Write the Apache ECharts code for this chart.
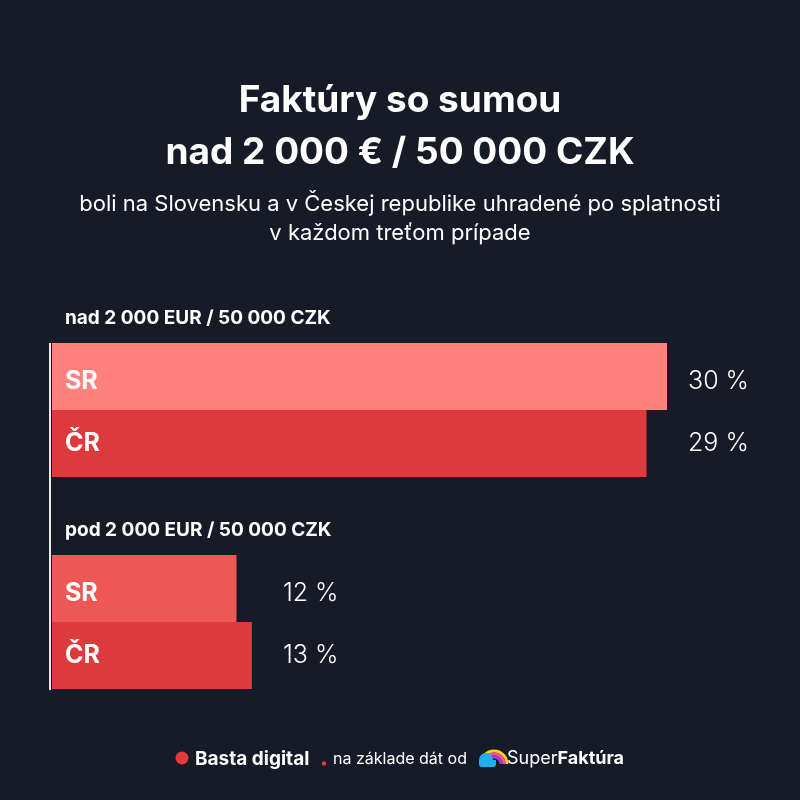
<!DOCTYPE html>
<html>
<head>
<meta charset="utf-8">
<title>Faktúry so sumou nad 2 000 €</title>
<script src="https://cdn.jsdelivr.net/npm/echarts@6/dist/echarts.min.js"></script>
<style>
  html, body { margin: 0; padding: 0; background: #171a27; }
  #chart { width: 800px; height: 800px; }
</style>
</head>
<body>
<div id="chart"></div>
<script>
// data
const countries = ['SR', 'ČR'];
const groupTitles = ['nad 2 000 EUR / 50 000 CZK', 'pod 2 000 EUR / 50 000 CZK'];
const overValues = [30, 29];   // % paid late, invoices over 2 000 EUR
const underValues = [12, 13];  // % paid late, invoices under 2 000 EUR
const overColors = ['#ff817e', '#dc3a3c'];
const underColors = ['#ef5656', '#dc3a3c'];

const FONT = 'Inter, Lato, sans-serif';
const labelShift = [[0, 5], [0, 0]];

const chart = echarts.init(document.getElementById('chart'));

// one bar series + an invisible series that carries the aligned value labels
function groupSeries(values, colors, idx, labelGap) {
  const maxVal = Math.max(...values);
  return [
    {
      type: 'bar',
      xAxisIndex: idx,
      yAxisIndex: idx,
      barWidth: '100%',
      barGap: '-100%',
      z: 3,
      data: values.map((v, i) => ({ value: v, itemStyle: { color: colors[i] }, label: { offset: labelShift[i] } })),
      label: {
        show: true,
        position: 'insideLeft',
        distance: 13,
        formatter: '{b}',
        color: '#fff',
        fontFamily: FONT,
        fontWeight: 'bold',
        fontSize: 25
      }
    },
    {
      type: 'bar',
      xAxisIndex: idx,
      yAxisIndex: idx,
      barWidth: '100%',
      barGap: '-100%',
      z: 1,
      silent: true,
      itemStyle: { color: 'rgba(0,0,0,0)' },
      data: values.map((v, i) => ({ value: maxVal, label: { offset: labelShift[i] } })),
      label: {
        show: true,
        position: 'right',
        distance: labelGap,
        formatter: (p) => values[p.dataIndex] + ' %',
        color: '#fff',
        fontFamily: FONT,
        fontWeight: 300,
        fontSize: 25
      }
    }
  ];
}

function centerText(str, y, font) {
  return { type: 'text', x: 400, y: y, style: { text: str, fill: '#fff', font: font, align: 'center', verticalAlign: 'middle' } };
}

const option = {
  backgroundColor: '#171a27',
  animation: false,
  grid: [
    { left: 52, right: 10, top: 343, height: 134 },
    { left: 52, right: 10, top: 555, height: 134 }
  ],
  xAxis: [
    { gridIndex: 0, type: 'value', min: 0, max: 36, show: false },
    { gridIndex: 1, type: 'value', min: 0, max: 48, show: false }
  ],
  yAxis: [
    { gridIndex: 0, type: 'category', inverse: true, data: countries, show: false },
    { gridIndex: 1, type: 'category', inverse: true, data: countries, show: false }
  ],
  series: [
    ...groupSeries(overValues, overColors, 0, 21),
    ...groupSeries(underValues, underColors, 1, 31)
  ],
  graphic: [
    // heading
    centerText('Faktúry so sumou', 101, 'bold 37px ' + FONT),
    centerText('nad 2 000 € / 50 000 CZK', 153, 'bold 37px ' + FONT),
    centerText('boli na Slovensku a v Českej republike uhradené po splatnosti', 204, '22px ' + FONT),
    centerText('v každom treťom prípade', 233, '22px ' + FONT),
    // group headings
    { type: 'text', x: 65, y: 318, style: { text: groupTitles[0], fill: '#fff', font: 'bold 19px ' + FONT, verticalAlign: 'middle' } },
    { type: 'text', x: 65, y: 530, style: { text: groupTitles[1], fill: '#fff', font: 'bold 19px ' + FONT, verticalAlign: 'middle' } },
    // vertical axis line spanning both groups
    { type: 'rect', left: 49, top: 343, shape: { width: 2, height: 347 }, style: { fill: '#e8e8e8' } },
    // footer
    { type: 'circle', shape: { cx: 182, cy: 758, r: 6.5 }, style: { fill: '#e5393c' } },
    { type: 'text', x: 195, y: 759, style: { text: 'Basta digital', fill: '#fff', font: 'bold 19px ' + FONT, verticalAlign: 'middle' } },
    { type: 'circle', shape: { cx: 324, cy: 763.5, r: 2.2 }, style: { fill: '#e5393c' } },
    { type: 'text', x: 333, y: 759, style: { text: 'na základe dát od', fill: '#fff', font: '16px ' + FONT, verticalAlign: 'middle' } },
    // SuperFaktúra logo
    { type: 'arc', shape: { cx: 494, cy: 764, r: 13, startAngle: Math.PI, endAngle: 2 * Math.PI }, style: { stroke: '#ffd21f', lineWidth: 3, fill: null } },
    { type: 'arc', shape: { cx: 494, cy: 764, r: 10, startAngle: Math.PI, endAngle: 2 * Math.PI }, style: { stroke: '#ff4fa3', lineWidth: 3, fill: null } },
    { type: 'arc', shape: { cx: 494, cy: 764, r: 7, startAngle: Math.PI, endAngle: 2 * Math.PI }, style: { stroke: '#9b3fd6', lineWidth: 3, fill: null } },
    { type: 'circle', shape: { cx: 486, cy: 760, r: 7 }, style: { fill: '#1fb0f2' } },
    { type: 'rect', shape: { x: 479, y: 760, width: 17, height: 7, r: [0, 0, 3, 3] }, style: { fill: '#1fb0f2' } },
    {
      type: 'text', x: 507, y: 759,
      style: {
        text: '{a|Super}{b|Faktúra}',
        verticalAlign: 'middle',
        rich: {
          a: { fill: '#fff', font: '18px ' + FONT },
          b: { fill: '#fff', font: 'bold 18px ' + FONT }
        }
      }
    }
  ]
};

chart.setOption(option);
</script>
</body>
</html>
